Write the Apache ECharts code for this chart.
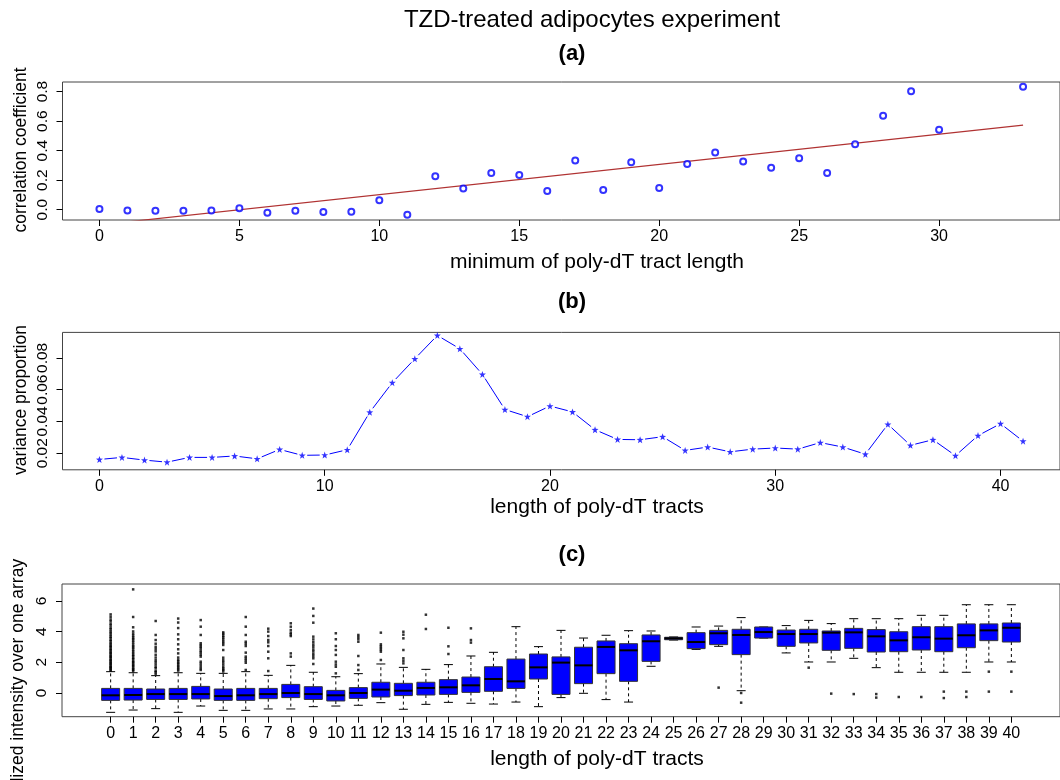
<!DOCTYPE html>
<html><head><meta charset="utf-8">
<script src="https://cdn.jsdelivr.net/npm/echarts@6/dist/echarts.min.js"></script>
<style>html,body{margin:0;padding:0;background:#fff}#c{width:1060px;height:780px}</style>
</head><body><div id="c"></div>
<script>
// ---------- Panel (a): correlation coefficient vs minimum tract length
const corrX = [0,1,2,3,4,5,6,7,8,9,10,11,12,13,14,15,16,17,18,19,20,21,22,23,24,25,26,27,28,29,30,33];
const corrY = [0.005,-0.005,-0.007,-0.007,-0.005,0.010,-0.021,-0.007,-0.016,-0.014,0.063,-0.035,0.227,0.143,0.248,0.235,0.127,0.333,0.134,0.321,0.146,0.310,0.387,0.326,0.284,0.349,0.248,0.443,0.636,0.802,0.542,0.833];
const fitLine = [[0,-0.103],[33,0.573]];
const aXTicks = [0,5,10,15,20,25,30];
const aYTicks = [0,0.2,0.4,0.6,0.8];

// ---------- Panel (b): variance proportion vs tract length
const varX = [0,1,2,3,4,5,6,7,8,9,10,11,12,13,14,15,16,17,18,19,20,21,22,23,24,25,26,27,28,29,30,31,32,33,34,35,36,37,38,39,40,41];
const varY = [0.0161,0.0174,0.0157,0.0144,0.0174,0.0174,0.0183,0.0165,0.0224,0.0187,0.0189,0.0222,0.0458,0.0644,0.0794,0.0941,0.0857,0.0696,0.0475,0.0430,0.0497,0.0460,0.0348,0.0287,0.0285,0.0304,0.0218,0.0239,0.0209,0.0226,0.0233,0.0226,0.0267,0.0239,0.0194,0.0382,0.0250,0.0285,0.0185,0.0311,0.0386,0.0276];
const bXTicks = [0,10,20,30,40];
const bYTicks = [0.02,0.04,0.06,0.08];

// ---------- Panel (c): boxplots of normalized intensity by tract length
const boxCats = [0,1,2,3,4,5,6,7,8,9,10,11,12,13,14,15,16,17,18,19,20,21,22,23,24,25,26,27,28,29,30,31,32,33,34,35,36,37,38,39,40];
const lowW = [-1.26,-1.11,-1.02,-1.26,-0.85,-1.13,-1.13,-1.04,-1.04,-0.89,-0.85,-0.80,-0.63,-1.06,-0.74,-0.61,-0.67,-0.72,-0.59,-0.89,-0.30,-0.02,-0.43,-0.59,1.74,3.45,2.84,3.04,0.15,3.58,2.61,2.02,2.02,2.26,1.65,1.35,1.35,1.35,1.35,2.02,2.02];
const q1 = [-0.48,-0.46,-0.42,-0.42,-0.39,-0.48,-0.48,-0.37,-0.30,-0.42,-0.52,-0.35,-0.26,-0.17,-0.13,-0.09,0.04,0.11,0.30,0.91,-0.09,0.61,1.26,0.76,2.06,3.47,2.89,3.15,2.50,3.58,3.04,3.26,2.78,2.91,2.67,2.69,2.80,2.69,2.95,3.41,3.32];
const med = [-0.15,-0.13,-0.07,-0.07,-0.07,-0.20,-0.15,-0.07,0.00,-0.07,-0.15,0.00,0.22,0.15,0.33,0.37,0.50,0.91,0.76,1.67,1.98,1.80,3.00,2.78,3.37,3.56,3.32,3.89,3.78,3.97,3.84,3.84,3.93,3.95,3.69,3.43,3.63,3.54,3.76,4.08,4.25];
const q3 = [0.30,0.30,0.26,0.30,0.43,0.26,0.30,0.30,0.56,0.41,0.17,0.35,0.70,0.63,0.70,0.87,1.04,1.71,2.21,2.54,2.35,2.98,3.39,3.21,3.78,3.63,3.93,4.08,4.15,4.30,4.10,4.15,4.04,4.21,4.13,3.99,4.32,4.32,4.50,4.50,4.56];
const upW = [1.39,1.32,1.13,1.32,1.28,1.28,1.39,1.15,1.80,1.35,1.06,1.26,1.89,1.67,1.54,1.85,2.41,2.65,4.32,3.02,4.08,3.58,3.76,4.06,4.04,3.65,4.30,4.36,4.91,4.30,4.39,4.73,4.52,4.84,4.84,4.84,5.06,5.06,5.75,5.75,5.75];
const outliers = [
  [1.45,1.52,1.59,1.66,1.71,1.79,1.88,1.94,2.03,2.11,2.17,2.26,2.36,2.42,2.52,2.61,2.69,2.79,2.87,2.98,3.05,3.16,3.24,3.37,3.45,3.58,3.67,3.79,3.91,4.01,4.14,4.24,4.39,4.51,4.67,4.79,4.96,5.12],
  [1.42,1.51,1.57,1.66,1.76,1.83,1.93,2.01,2.09,2.21,2.29,2.41,2.49,2.61,2.72,2.84,2.96,3.04,3.16,3.29,3.41,3.52,3.61,3.73,3.86,4.01,4.28,4.95,6.75],
  [1.24,1.36,1.44,1.61,1.71,1.86,2.01,2.14,2.31,2.49,2.71,2.86,3.01,3.21,3.45,3.78,4.69],
  [1.46,1.55,1.66,1.74,1.86,1.95,2.06,2.16,2.31,2.58,2.85,3.17,3.50,3.82,4.23,4.59,4.85],
  [1.50,1.61,1.76,1.91,2.04,2.37,2.49,2.63,2.74,2.89,3.01,3.12,3.24,3.78,4.32,4.75],
  [1.40,1.51,1.59,1.71,1.86,2.01,2.14,2.30,2.80,3.13,3.26,3.37,3.51,3.63,3.74,3.86,3.95],
  [1.50,1.97,2.11,2.24,2.37,2.63,3.06,3.21,3.34,3.78,4.32,4.95],
  [1.43,2.26,2.69,3.06,3.30,3.45,3.71,4.00,4.19],
  [2.37,2.58,3.71,3.82,3.93,4.10,4.32,4.54],
  [1.89,2.26,2.41,2.55,2.71,2.84,3.01,3.15,3.31,3.49,3.67,4.58,5.02,5.50],
  [1.28,1.71,1.86,2.04,2.48,2.80,3.06,3.50,3.89],
  [1.50,1.82,2.41,3.34,3.51,3.65,3.78],
  [2.15,2.69,2.81,2.93,3.05,3.17,3.93],
  [1.93,2.10,2.26,2.80,3.56,3.80,3.99],
  [4.17,5.10],
  [2.54,3.04,4.25],
  [3.28,3.45,4.21],
  [],[],[],[],[],[],[],[],[],[],
  [0.35],
  [0.00,-0.63],
  [],[],
  [1.65],
  [-0.04],
  [-0.07],
  [-0.07,-0.30],
  [-0.26],
  [-0.26],
  [0.09,-0.33],
  [0.09,-0.26],
  [1.39,0.09],
  [1.39,0.09]
];
const cYTicks = [0,2,4,6];

// ---------- build
const FONT = 'Liberation Sans, Arial, Helvetica, sans-serif';
const BLUE = '#0000FF';
const chart = echarts.init(document.getElementById('c'), null, {renderer: 'canvas'});

const boxData = boxCats.map((c, i) => [c, lowW[i], q1[i], med[i], q3[i], upW[i]]);
const outData = [];
outliers.forEach((arr, i) => arr.forEach(v => outData.push([boxCats[i], v])));
const corrData = corrX.map((x, i) => [x, corrY[i]]);
const varData = varX.map((x, i) => [x, varY[i]]);

function axisX(grid, min, max, ticks, fmt) {
  return {
    type: 'value', gridIndex: grid, min: min, max: max, position: 'bottom',
    axisLine: {show: false, onZero: false},
    splitLine: {show: false},
    axisTick: {show: true, length: 6, customValues: ticks, lineStyle: {color: '#000', width: 1}},
    axisLabel: {customValues: ticks, fontSize: 16, color: '#000', fontFamily: FONT, margin: 9,
                formatter: fmt || (v => String(v))}
  };
}
function axisY(grid, min, max, ticks, fmt) {
  return {
    type: 'value', gridIndex: grid, min: min, max: max, position: 'left',
    axisLine: {show: false, onZero: false},
    splitLine: {show: false},
    axisTick: {show: true, length: 6, customValues: ticks, lineStyle: {color: '#000', width: 1}},
    axisLabel: {customValues: ticks, fontSize: 15.5, color: '#000', fontFamily: FONT, margin: 12, rotate: 90,
                formatter: fmt}
  };
}

function boxRender(params, api) {
  const x = api.value(0);
  const pLw = api.coord([x, api.value(1)]);
  const pQ1 = api.coord([x, api.value(2)]);
  const pMd = api.coord([x, api.value(3)]);
  const pQ3 = api.coord([x, api.value(4)]);
  const pUw = api.coord([x, api.value(5)]);
  const half = api.size([0.8, 0])[0] / 2;
  const cap = half / 2;
  const cx = pMd[0];
  const dash = {stroke: '#000', lineWidth: 1, lineDash: [3, 3]};
  const solid = {stroke: '#000', lineWidth: 1};
  return {
    type: 'group',
    children: [
      {type: 'line', shape: {x1: cx, y1: pQ3[1], x2: cx, y2: pUw[1]}, style: dash},
      {type: 'line', shape: {x1: cx, y1: pQ1[1], x2: cx, y2: pLw[1]}, style: dash},
      {type: 'line', shape: {x1: cx - cap, y1: pUw[1], x2: cx + cap, y2: pUw[1]}, style: solid},
      {type: 'line', shape: {x1: cx - cap, y1: pLw[1], x2: cx + cap, y2: pLw[1]}, style: solid},
      {type: 'rect', shape: {x: cx - half, y: pQ3[1], width: 2 * half, height: pQ1[1] - pQ3[1]},
       style: {fill: BLUE, stroke: '#333', lineWidth: 1}},
      {type: 'line', shape: {x1: cx - half, y1: pMd[1], x2: cx + half, y2: pMd[1]}, style: {stroke: '#000', lineWidth: 2}}
    ]
  };
}

function segRender(params, api) {
  const i = params.dataIndex;
  if (i >= varX.length - 1) return null;
  const p0 = api.coord([varX[i], varY[i]]);
  const p1 = api.coord([varX[i + 1], varY[i + 1]]);
  const dx = p1[0] - p0[0], dy = p1[1] - p0[1];
  const len = Math.sqrt(dx * dx + dy * dy);
  const gap = 5;
  if (len <= 2 * gap) return null;
  const ux = dx / len, uy = dy / len;
  return {type: 'line', shape: {x1: p0[0] + ux * gap, y1: p0[1] + uy * gap, x2: p1[0] - ux * gap, y2: p1[1] - uy * gap},
          style: {stroke: BLUE, lineWidth: 1}};
}

const STAR = 'path://M0,-10 L2.35,-3.24 L9.51,-3.09 L3.8,1.24 L5.88,8.09 L0,4 L-5.88,8.09 L-3.8,1.24 L-9.51,-3.09 L-2.35,-3.24Z';

function txt(text, x, y, size, opts) {
  opts = opts || {};
  return {
    type: 'text', x: x, y: y, rotation: opts.rot || 0, silent: true,
    style: {text: text, fill: '#000', fontSize: size, fontFamily: FONT, fontWeight: opts.bold ? 'bold' : 'normal',
            align: 'center', verticalAlign: 'middle', textAlign: 'center', textVerticalAlign: 'middle'}
  };
}

const gridStyle = {show: true, borderColor: '#444', borderWidth: 1, backgroundColor: 'transparent'};

const option = {
  animation: false,
  backgroundColor: '#fff',
  textStyle: {fontFamily: FONT},
  grid: [
    Object.assign({left: 62.5, top: 82, width: 1006.5, height: 138}, gridStyle),
    Object.assign({left: 62.5, top: 332.4, width: 1007, height: 137.4}, gridStyle),
    Object.assign({left: 62, top: 584, width: 1007, height: 132.7}, gridStyle)
  ],
  xAxis: [
    axisX(0, -1.32, 34.32, aXTicks),
    axisX(1, -1.64, 42.64, bXTicks),
    axisX(2, -2.16, 42.16, boxCats)
  ],
  yAxis: [
    axisY(0, -0.07, 0.865, aYTicks, v => v.toFixed(1)),
    axisY(1, 0.0096, 0.096, bYTicks, v => v.toFixed(2)),
    axisY(2, -1.544, 7.10, cYTicks, v => String(v))
  ],
  series: [
    {type: 'line', xAxisIndex: 0, yAxisIndex: 0, data: fitLine, showSymbol: false, clip: true,
     lineStyle: {color: '#B03232', width: 1.2}, z: 2},
    {type: 'scatter', xAxisIndex: 0, yAxisIndex: 0, data: corrData, symbol: 'emptyCircle', symbolSize: 6,
     itemStyle: {color: BLUE, borderColor: BLUE, borderWidth: 1}, z: 3},
    {type: 'custom', xAxisIndex: 1, yAxisIndex: 1, data: varData, renderItem: segRender, z: 2},
    {type: 'scatter', xAxisIndex: 1, yAxisIndex: 1, data: varData, symbol: STAR, symbolSize: 7,
     itemStyle: {color: BLUE}, z: 3},
    {type: 'custom', xAxisIndex: 2, yAxisIndex: 2, data: boxData, renderItem: boxRender, z: 2},
    {type: 'scatter', xAxisIndex: 2, yAxisIndex: 2, data: outData, symbol: 'rect', symbolSize: 2.5,
     itemStyle: {color: '#000'}, z: 3}
  ],
  graphic: [
    txt('TZD-treated adipocytes experiment', 592, 20, 24),
    txt('(a)', 572, 54, 22, {bold: true}),
    txt('(b)', 572, 302, 22, {bold: true}),
    txt('(c)', 572, 555, 22, {bold: true}),
    txt('minimum of poly-dT tract length', 597, 262, 21),
    txt('length of poly-dT tracts', 597, 507, 21),
    txt('length of poly-dT tracts', 597, 759, 21),
    txt('correlation coefficient', 21, 150, 17.5, {rot: Math.PI / 2}),
    txt('variance proportion', 21, 400, 17.5, {rot: Math.PI / 2}),
    txt('normalized intensity over one array', 18, 695, 17.5, {rot: Math.PI / 2})
  ]
};
chart.setOption(option);
</script>
</body></html>
